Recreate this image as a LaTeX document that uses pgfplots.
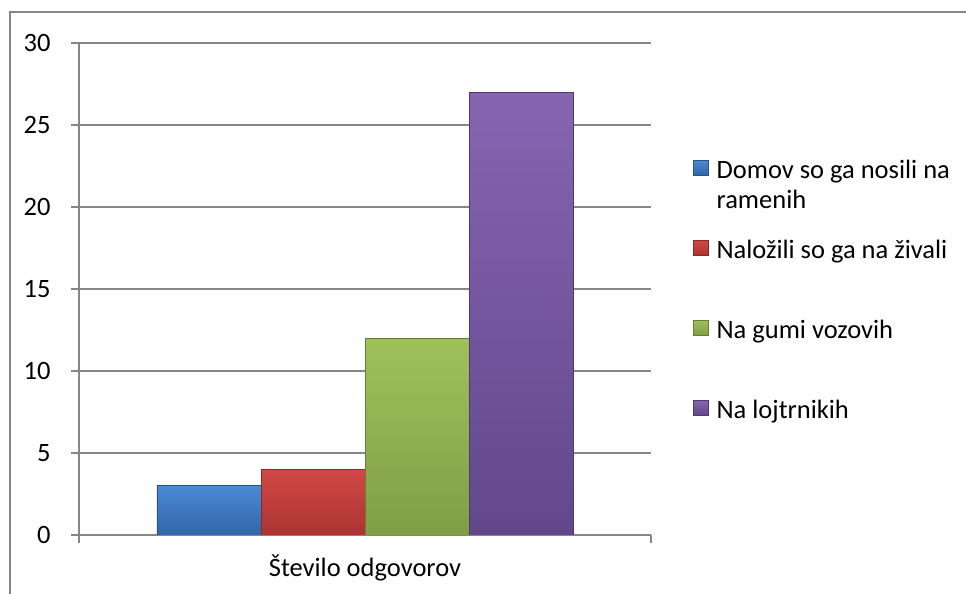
\documentclass[border=0pt]{standalone}
\usepackage{fontspec}
\setmainfont{Carlito}
\usepackage{pgfplots}
\pgfplotsset{compat=1.18}
\definecolor{axisgray}{RGB}{134,134,134}
\definecolor{bluetop}{RGB}{74,138,212}
\definecolor{bluebot}{RGB}{52,101,168}
\definecolor{redtop}{RGB}{208,72,69}
\definecolor{redbot}{RGB}{172,52,50}
\definecolor{greentop}{RGB}{160,192,92}
\definecolor{greenbot}{RGB}{128,158,68}
\definecolor{purpletop}{RGB}{134,100,178}
\definecolor{purplebot}{RGB}{98,72,138}
\newcommand{\chartfont}{\fontsize{26.5bp}{30bp}\selectfont}
\begin{document}
\begin{tikzpicture}[font=\chartfont]
\useasboundingbox (0bp,0bp) rectangle (966bp,594bp);
\draw[axisgray, line width=1.5bp] (10bp,-5bp) -- (10bp,582bp) -- (975bp,582bp);
\begin{axis}[
  at={(79bp,59bp)}, anchor=south west,
  scale only axis, width=572bp, height=492bp,
  xmin=-0.5, xmax=0.5, ymin=0, ymax=30,
  ybar=0pt, bar width=104bp,
  axis lines*=left,
  axis line style={draw=axisgray, line width=1.3bp},
  ymajorgrids, grid style={draw=axisgray, line width=1.3bp},
  ytick={0,5,10,15,20,25,30},
  xtick={-0.5,0.5}, xticklabels={},
  tick align=outside, major tick length=8bp,
  tick style={draw=axisgray, line width=1.3bp},
  /pgf/number format/assume math mode=true,
  yticklabel style={font=\chartfont, xshift=-17bp},
  xlabel={Število odgovorov},
  xlabel style={font=\chartfont, yshift=-1bp},
  legend cell align=left,
  legend style={draw=none, fill=none, at={(1.0734,0.766)}, anchor=north west,
    inner sep=0pt, outer sep=0pt, row sep=54bp, column sep=8bp, font=\chartfont,
    nodes={inner sep=0pt, outer sep=0pt, text height=20bp, text depth=6bp}},
  legend image code/.code={\path[#1] (0bp,-4bp) rectangle (15bp,11bp);},
]
\addplot[draw=bluebot!80!black, line width=0.6bp, top color=bluetop, bottom color=bluebot] coordinates {(0,3)};
\addlegendentry{\parbox[t]{260bp}{\raggedright Domov so ga nosili na\\ramenih}}
\addplot[draw=redbot!80!black, line width=0.6bp, top color=redtop, bottom color=redbot] coordinates {(0,4)};
\addlegendentry{Naložili so ga na živali}
\addplot[draw=greenbot!80!black, line width=0.6bp, top color=greentop, bottom color=greenbot] coordinates {(0,12)};
\addlegendentry{Na gumi vozovih}
\addplot[draw=purplebot!80!black, line width=0.6bp, top color=purpletop, bottom color=purplebot] coordinates {(0,27)};
\addlegendentry{Na lojtrnikih}
\end{axis}
\end{tikzpicture}
\end{document}
